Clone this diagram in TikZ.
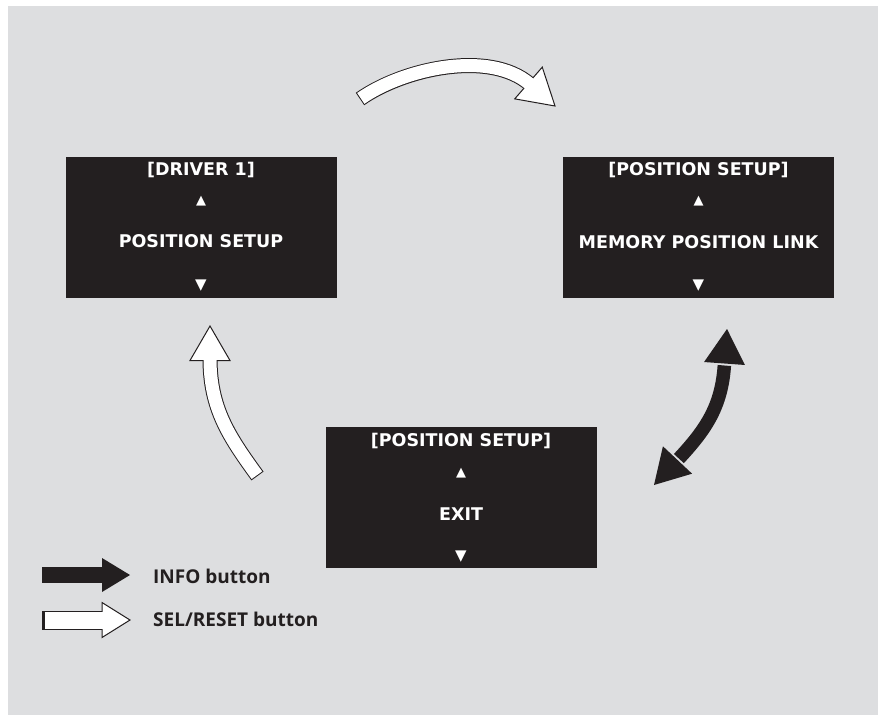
\documentclass[tikz,border=0pt]{standalone}
\usepackage{fontspec}
\setmainfont{Open Sans}
\newfontfamily\lcdfont{DejaVu Sans}
\usetikzlibrary{calc,positioning}

\definecolor{panelgray}{RGB}{221,222,224}
\definecolor{lcdblack}{RGB}{35,31,32}

\tikzset{
  screen/.style={fill=lcdblack, minimum width=271pt, minimum height=141pt, inner sep=0pt},
  lcdtext/.style={text=white, font=\lcdfont\bfseries\fontsize{17.5}{18}\selectfont, inner sep=0pt},
  lcdmark/.style={text=white, font=\lcdfont\fontsize{13}{13}\selectfont, inner sep=0pt},
  legendtext/.style={anchor=base west, text=lcdblack, font=\bfseries\fontsize{19}{20}\selectfont, inner sep=0pt},
  shaftout/.style={line width=15pt, draw=lcdblack},
  shaftin/.style={line width=13pt, draw=white, shorten <=1pt},
  headhollow/.style={fill=white, draw=lcdblack, line width=1pt, line join=miter},
  headsolid/.style={fill=lcdblack},
}

% hollow button arrow: tail, head base, tip, half width, to-options
\newcommand{\hollowarrow}[5]{%
  \draw[shaftout] (#1) to[#5] ($(#2)!2pt!(#3)$);
  \filldraw[headhollow] ($(#2)!#4!90:(#3)$) -- (#3) -- ($(#2)!#4!-90:(#3)$) -- cycle;
  \draw[shaftin] (#1) to[#5] ($(#2)!2pt!(#3)$);
}
% solid arrow head: base, tip, half width
\newcommand{\solidhead}[3]{%
  \fill[headsolid] ($(#1)!#3!90:(#2)$) -- (#2) -- ($(#1)!#3!-90:(#2)$) -- cycle;
}

\begin{document}
\begin{tikzpicture}[x=1pt,y=1pt]
  \useasboundingbox (0,0) rectangle (878,-715);
  \fill[panelgray] (8,-6) rectangle (878,-715);

  % the three screens
  \node[screen] (scrDriver) at (201,-227.5) {};
  \node[screen] (scrSetup) at (698.5,-227.5) {};
  \node[screen] (scrExit) at (461,-497.5) {};

  \node[lcdtext] (drvTitle) at ([yshift=-13.5pt]scrDriver.north) {[DRIVER 1]};
  \node[lcdmark] (drvUp) at ([yshift=-44.5pt]scrDriver.north) {▲};
  \node[lcdmark, font=\lcdfont\fontsize{15}{15}\selectfont] (drvDown) at ([yshift=-129pt]scrDriver.north) {▼};
  \node[lcdtext] (drvItem) at ([yshift=-84.5pt]scrDriver.north) {POSITION SETUP};

  \node[lcdtext] (setTitle) at ([yshift=-13.5pt]scrSetup.north) {[POSITION SETUP]};
  \node[lcdmark] (setUp) at ([yshift=-44.5pt]scrSetup.north) {▲};
  \node[lcdtext] (setItem) at ([yshift=-85pt]scrSetup.north) {MEMORY POSITION LINK};
  \node[lcdmark, font=\lcdfont\fontsize{15}{15}\selectfont] (setDown) at ([yshift=-129pt]scrSetup.north) {▼};

  \node[lcdtext] (extTitle) at ([yshift=-14pt]scrExit.north) {[POSITION SETUP]};
  \node[lcdmark] (extUp) at ([yshift=-46pt]scrExit.north) {▲};
  \node[lcdtext] (extItem) at ([yshift=-87.5pt]scrExit.north) {EXIT};
  \node[lcdmark, font=\lcdfont\fontsize{15}{15}\selectfont] (extDown) at ([yshift=-130pt]scrExit.north) {▼};

  % arrow ends
  \coordinate (topTail) at (360,-99);
  \coordinate (topBase) at (528.5,-83);
  \coordinate (topTip) at (555,-106);
  \coordinate (leftTail) at (257.5,-476);
  \coordinate (leftBase) at (210,-360.5);
  \coordinate (leftTip) at (210,-326);
  \coordinate (rightBaseA) at (724.5,-363.5);
  \coordinate (rightTipA) at (727,-329);
  \coordinate (rightBaseB) at (677.5,-460);
  \coordinate (rightTipB) at (654,-485);

  % SEL/RESET arrows
  \hollowarrow{topTail}{topBase}{topTip}{21pt}{out=35,in=139,looseness=0.8}
  \hollowarrow{leftTail}{leftBase}{leftTip}{20pt}{out=126,in=270}

  % INFO arrow, both ways
  \draw[line width=13.5pt, lcdblack] ($(rightBaseA)!-2pt!(rightTipA)$) to[out=266,in=47] ($(rightBaseB)!-2pt!(rightTipB)$);
  \solidhead{rightBaseA}{rightTipA}{20.5pt}
  \solidhead{rightBaseB}{rightTipB}{20pt}

  % legend
  \coordinate (infoTail) at (42,-575);
  \coordinate (infoBase) at (102,-575);
  \coordinate (infoTip) at (130,-575);
  \draw[line width=16pt, lcdblack] (infoTail) -- ($(infoBase)!2pt!(infoTip)$);
  \solidhead{infoBase}{infoTip}{17pt}
  \node[legendtext] (infoLabel) at (153,-583) {INFO button};

  \coordinate (selTail) at (42,-620);
  \coordinate (selBase) at (102,-620);
  \coordinate (selTip) at (130,-620);
  \draw[line width=19pt, lcdblack] (selTail) -- ($(selBase)!2pt!(selTip)$);
  \filldraw[headhollow] ($(selBase)!17.5pt!90:(selTip)$) -- (selTip) -- ($(selBase)!17.5pt!-90:(selTip)$) -- cycle;
  \draw[line width=17pt, white, shorten <=2.5pt] (selTail) -- ($(selBase)!2pt!(selTip)$);
  \node[legendtext] (selLabel) at (153,-626) {SEL/RESET button};
\end{tikzpicture}
\end{document}
